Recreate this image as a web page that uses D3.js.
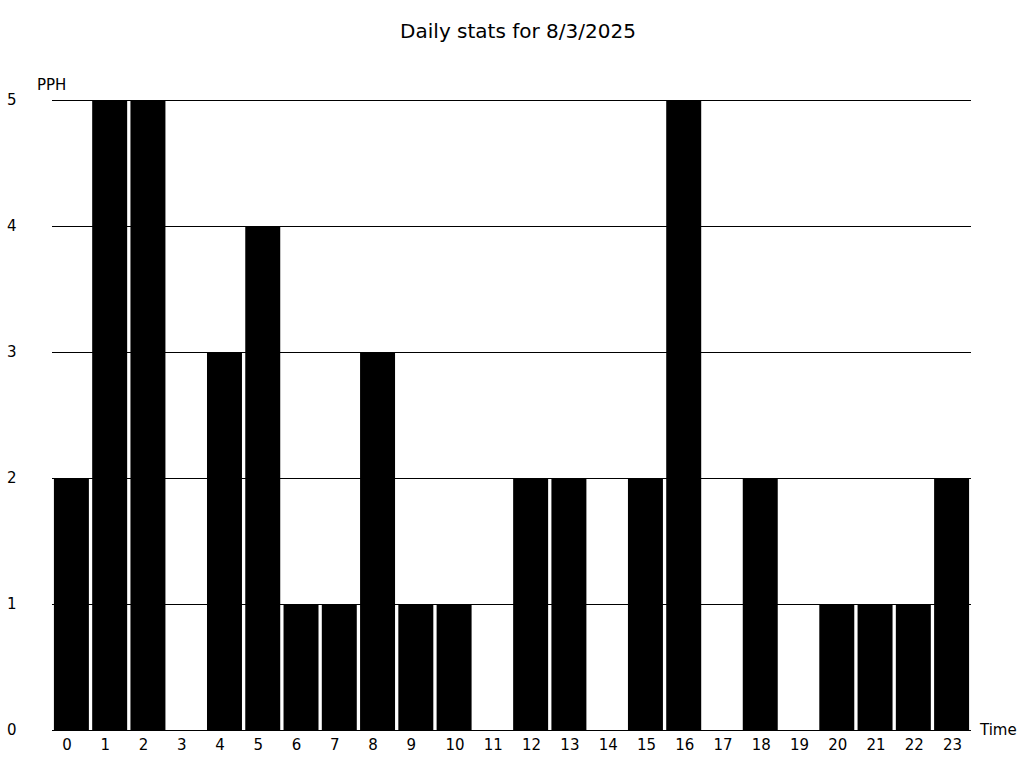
<!DOCTYPE html>
<html>
<head>
<meta charset="utf-8">
<script src="https://cdn.jsdelivr.net/npm/d3@7"></script>
<style>
  html, body { margin: 0; padding: 0; background: #fff; }
  text { font-family: "DejaVu Sans", sans-serif; fill: #000; }
</style>
</head>
<body>
<svg id="chart" width="1024" height="768"></svg>
<script>
const hours = ["0","1","2","3","4","5","6","7","8","9","10","11","12","13","14","15","16","17","18","19","20","21","22","23"];
const pph = [2,5,5,0,3,4,1,1,3,1,1,0,2,2,0,2,5,0,2,0,1,1,1,2];
const yTicks = [0,1,2,3,4,5];
const title = "Daily stats for 8/3/2025";

const svg = d3.select("#chart");
const mLeft = 52, mRight = 971, mTop = 100, mBottom = 730;

const x = d3.scaleBand().domain(hours).range([mLeft, mRight]).paddingInner(0.086).paddingOuter(0.05);
const y = d3.scaleLinear().domain([0, 5]).range([mBottom, mTop]);

svg.append("text").attr("x", 518).attr("y", 31).attr("text-anchor", "middle")
  .attr("dominant-baseline", "central").style("font-size", "20px").text(title);

// gridlines
svg.append("g").selectAll("line").data(yTicks).join("line")
  .attr("x1", mLeft).attr("x2", mRight)
  .attr("y1", d => y(d) + 0.5).attr("y2", d => y(d) + 0.5)
  .attr("stroke", "#000").attr("stroke-width", 1);

// y labels
svg.append("g").selectAll("text").data(yTicks).join("text")
  .attr("x", 7).attr("y", d => y(d)).attr("dominant-baseline", "central")
  .style("font-size", "15px").text(d => d);

svg.append("text").attr("x", 37).attr("y", 85).attr("dominant-baseline", "central")
  .style("font-size", "15px").text("PPH");

// bars
svg.append("g").selectAll("rect").data(hours).join("rect")
  .attr("x", d => x(d)).attr("width", x.bandwidth())
  .attr("y", (d, i) => y(pph[i])).attr("height", (d, i) => y(0) - y(pph[i]))
  .attr("fill", "#000");

// x labels
svg.append("g").selectAll("text").data(hours).join("text")
  .attr("x", d => x(d) + x.bandwidth() / 2 + (d.length === 1 ? -4.5 : 1))
  .attr("y", 745).attr("text-anchor", "middle").attr("dominant-baseline", "central")
  .style("font-size", "15px").text(d => d);

svg.append("text").attr("x", 980).attr("y", 730).attr("dominant-baseline", "central")
  .style("font-size", "15px").text("Time");
</script>
</body>
</html>
